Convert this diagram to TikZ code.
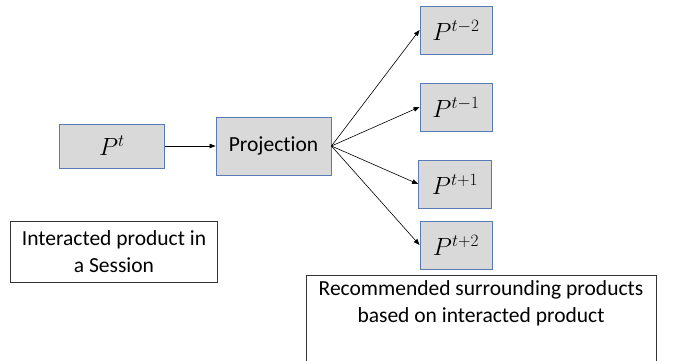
\documentclass[tikz,border=0pt]{standalone}
\usepackage{fontspec}
\setmainfont{Carlito}[Ligatures=NoCommon]
\usepackage{xcolor}
\usetikzlibrary{arrows.meta, positioning}
\definecolor{boxgray}{RGB}{217,217,217}
\definecolor{boxblue}{RGB}{90,122,182}
\begin{document}
\begin{tikzpicture}[x=1pt, y=-1pt, every node/.style={font=\fontsize{21.5}{27}\selectfont},
  prodbox/.style={draw=boxblue, fill=boxgray, line width=0.9pt, inner sep=0pt},
  prodmath/.style={prodbox, font=\fontsize{23}{27}\selectfont},
  notebox/.style={draw=black!80, line width=0.8pt, inner sep=0pt, align=center},
  link/.style={-{Triangle[length=6pt,width=4.5pt]}, line width=0.6pt}]
\useasboundingbox (0,0) rectangle (683,360);
\clip (0,0) rectangle (683,360);
% Input product and projection
\node[prodmath, minimum width=105, minimum height=44] (pt) at (112,146) {$P^{t}$};
\node[prodbox, minimum width=115, minimum height=58] (proj) at (273.5,146) {Projection};
% Surrounding products
\node[prodmath, minimum width=72, minimum height=48] (m2) at (456,30) {$P^{t-2}$};
\node[prodmath, minimum width=72, minimum height=48] (m1) at (456,107) {$P^{t-1}$};
\node[prodmath, minimum width=73, minimum height=48] (p1) at (455,184) {$P^{t+1}$};
\node[prodmath, minimum width=72, minimum height=48] (p2) at (456,245) {$P^{t+2}$};
% Connectors
\draw[link] (pt) -- (proj);
\foreach \n in {m2,m1,p1,p2}
  \draw[link] (proj.east) -- (\n.west);
% Notes
\node[notebox, minimum width=207, minimum height=61] (inter) at (114,251.5)
  {Interacted product in\\a Session};
\node[notebox, minimum width=350, minimum height=100, anchor=north] (rec) at (481,275) {};
\node[align=center, anchor=north, inner sep=0pt] (rectext) at ([yshift=-5pt]rec.north)
  {Recommended surrounding products\\based on interacted product};
\end{tikzpicture}
\end{document}
